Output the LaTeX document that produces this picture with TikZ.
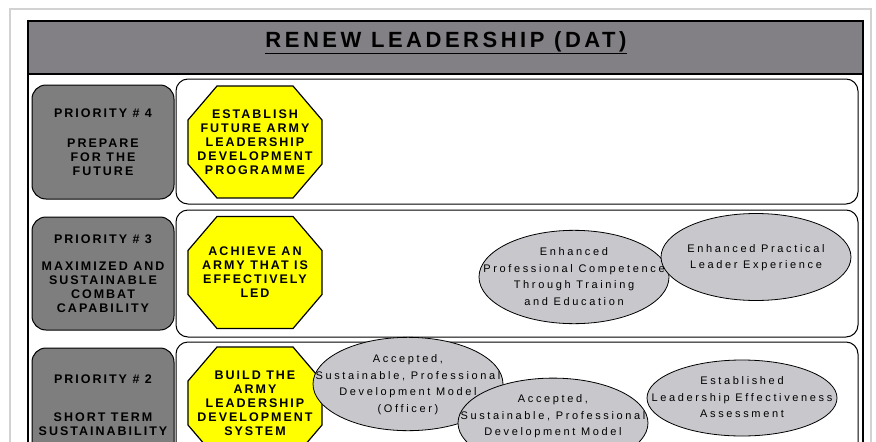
\documentclass[tikz,border=0pt]{standalone}
\usepackage{fontspec}
\setmainfont{Liberation Sans}
\newfontfamily\widefont[LetterSpace=16]{Liberation Sans}
\newfontfamily\ovalfont[LetterSpace=24]{Liberation Sans}
\usetikzlibrary{shapes.geometric}

\definecolor{bargray}{RGB}{130,127,133}
\definecolor{prigray}{RGB}{126,126,126}
\definecolor{ovalgray}{RGB}{200,200,204}
\definecolor{signyellow}{RGB}{255,255,0}

% centred lines that do not widen the ellipse
\newcommand{\ovallines}[1]{\makebox[0pt]{\begin{tabular}{@{}c@{}}#1\end{tabular}}}

\tikzset{
  priority/.style={draw=black, line width=1pt, fill=prigray, rounded corners=14pt,
    minimum width=142pt, minimum height=114pt, inner sep=0pt, align=center,
    font=\widefont\bfseries\fontsize{12.5}{14}\selectfont},
  lane/.style={draw=black, line width=1pt, fill=white, rounded corners=12pt,
    minimum width=682pt, inner sep=0pt},
  octagon/.style={minimum width=136pt, minimum height=114pt, inner sep=0pt, align=center,
    font=\widefont\bfseries\fontsize{12.5}{14}\selectfont,
    path picture={
      \draw[fill=signyellow, line width=1.2pt]
        ([xshift=30pt, yshift=-1pt]path picture bounding box.north west)
        -- ([xshift=-30pt, yshift=-1pt]path picture bounding box.north east)
        -- ([xshift=-1pt, yshift=-35pt]path picture bounding box.north east)
        -- ([xshift=-1pt, yshift=35pt]path picture bounding box.south east)
        -- ([xshift=-30pt, yshift=1pt]path picture bounding box.south east)
        -- ([xshift=30pt, yshift=1pt]path picture bounding box.south west)
        -- ([xshift=1pt, yshift=35pt]path picture bounding box.south west)
        -- ([xshift=1pt, yshift=-35pt]path picture bounding box.north west)
        -- cycle;
    }},
  outcome/.style={ellipse, draw=black, line width=0.8pt, fill=ovalgray,
    minimum width=190pt, minimum height=87pt, inner sep=0pt,
    font=\ovalfont\fontsize{11}{16.5}\selectfont},
}

\begin{document}
\begin{tikzpicture}[x=1pt, y=-1pt]
  \useasboundingbox (0,0) rectangle (876,442);
  \clip (0,0) rectangle (876,442);
  \fill[white] (0,0) rectangle (876,442);
  \draw[gray!35, line width=1.2pt] (10,9) rectangle (871,460);

  % frame and title bar
  \fill[bargray] (28,21) rectangle (863,74);
  \draw[line width=1.5pt] (28,74) -- (863,74);
  \draw[line width=2pt] (28,21) rectangle (863,470);
  \node[font=\widefont\bfseries\fontsize{22}{24}\selectfont] (title) at (446,43)
    {\underline{RENEW LEADERSHIP (DAT)}};

  % lanes
  \node[lane, minimum height=125pt] (lane4) at (517,141.5) {};
  \node[lane, minimum height=127pt] (lane3) at (517,273.5) {};
  \node[lane, minimum height=128pt] (lane2) at (517,406) {};

  % priorities
  \node[priority] (prio4) at (103,142)
    {PRIORITY \# 4\\[16pt]PREPARE\\FOR THE\\FUTURE};
  \node[priority, minimum height=113pt] (prio3) at (103,273.5)
    {PRIORITY \# 3\\[13pt]MAXIMIZED AND\\SUSTAINABLE\\COMBAT\\CAPABILITY};
  \node[priority] (prio2) at (103,405)
    {PRIORITY \# 2\\[24pt]SHORT TERM\\SUSTAINABILITY};

  % objectives
  \node[octagon] (goal4) at (255,142)
    {ESTABLISH\\FUTURE ARMY\\LEADERSHIP\\DEVELOPMENT\\PROGRAMME};
  \node[octagon] (goal3) at (255,272.5)
    {ACHIEVE AN\\ARMY THAT IS\\EFFECTIVELY\\LED};
  \node[octagon] (goal2) at (255,403)
    {BUILD THE\\ARMY\\LEADERSHIP\\DEVELOPMENT\\SYSTEM};

  % outcomes
  \node[outcome] (compet) at (574,277)
    {\ovallines{Enhanced\\Professional Competence\\Through Training\\and Education}};
  \node[outcome] (pract) at (756,257)
    {\ovallines{Enhanced Practical\\Leader Experience}};
  \node[outcome] (officer) at (408,384)
    {\ovallines{Accepted,\\Sustainable, Professional\\Development Model\\(Officer)}};
  \node[outcome] (model) at (553,423)
    {\ovallines{Accepted,\\Sustainable, Professional\\Development Model\\[14pt]}};
  \node[outcome, minimum height=76pt] (assess) at (742,398)
    {\ovallines{Established\\Leadership Effectiveness\\Assessment}};
\end{tikzpicture}
\end{document}
